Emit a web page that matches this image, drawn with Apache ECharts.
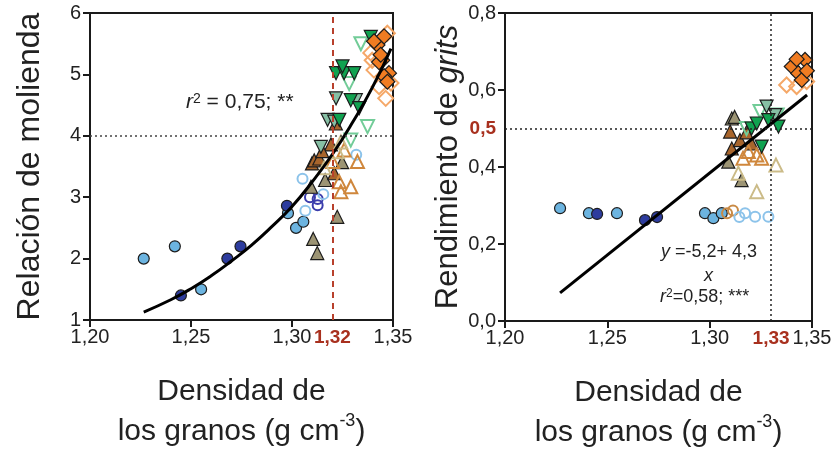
<!DOCTYPE html>
<html>
<head>
<meta charset="utf-8">
<script src="https://cdn.jsdelivr.net/npm/echarts@6/dist/echarts.min.js"></script>
<style>
  html, body { margin: 0; padding: 0; background: #fff; }
  #chart { width: 839px; height: 454px; }
</style>
</head>
<body>
<div id="chart"></div>
<script>
// x ticks shared by both panels
const xTicks = [1.20, 1.25, 1.30, 1.35];
const molTicks = [1, 2, 3, 4, 5, 6];
const grtTicks = [0, 0.2, 0.4, 0.6, 0.8];

// left panel: relacion de molienda
const molSky = [[1.2266,2.0],[1.242,2.2],[1.255,1.5],[1.298,2.74],[1.302,2.5],[1.3056,2.6]];
const molNavy = [[1.245,1.4],[1.268,2.0],[1.2745,2.2],[1.2975,2.86]];
const molOpenNavy = [[1.3089,3.0],[1.3127,2.97],[1.3127,2.87]];
const molOpenSky = [[1.3066,2.78],[1.3155,3.05],[1.3318,3.69],[1.3052,3.3]];
const molOlive = [[1.3105,2.32],[1.3125,2.09],[1.3224,2.68],[1.3094,3.17],[1.3164,3.28],[1.3248,3.57]];
const molBrown = [[1.3099,3.55],[1.311,3.6],[1.3135,3.63],[1.3209,3.39],[1.3193,3.86],[1.3217,4.2],[1.315,3.75]];
const molOpenOrangeTri = [[1.3324,3.58],[1.3234,3.25],[1.3291,3.17],[1.3242,3.09],[1.3201,3.58],[1.3258,3.77]];
const molOpenTanTri = [[1.3225,3.74],[1.316,3.48],[1.3242,3.9]];
const molGreen = [[1.339,5.61],[1.3218,5.02],[1.3258,5.02],[1.3308,5.02],[1.325,5.13],[1.3291,4.58],[1.3333,4.45],[1.3234,4.26]];
const molLightGreen = [[1.3218,4.61],[1.3316,4.58],[1.3176,4.26],[1.3143,3.82],[1.3209,4.23]];
const molOpenGreen = [[1.3341,5.5],[1.3283,4.85],[1.3374,4.15],[1.3291,3.93]];
const molDiamond = [[1.3423,5.48],[1.3447,5.23],[1.3431,5.2],[1.348,5.02],[1.3456,4.97],[1.3472,4.88],[1.3439,5.32],[1.3406,5.54],[1.3456,5.62]];
const molOpenDiamond = [[1.3472,5.67],[1.339,5.35],[1.3397,5.23],[1.3406,5.07],[1.3431,4.8],[1.3464,4.61],[1.349,4.86]];
const molCurve = [[1.2266,1.13],[1.24,1.33],[1.25,1.51],[1.26,1.72],[1.27,1.96],[1.28,2.22],[1.29,2.52],[1.30,2.85],[1.31,3.25],[1.32,3.7],[1.33,4.22],[1.34,4.8],[1.349,5.42]];

// right panel: rendimiento de grits
const grtSky = [[1.2269,0.293],[1.241,0.28],[1.2547,0.28],[1.2977,0.28],[1.3018,0.267],[1.3059,0.28]];
const grtNavy = [[1.245,0.278],[1.2684,0.262],[1.2743,0.27]];
const grtOpenBrownCircle = [[1.3085,0.28],[1.3114,0.287]];
const grtOpenSky = [[1.3173,0.28],[1.3222,0.271],[1.3287,0.271],[1.3145,0.27]];
const grtOlive = [[1.3108,0.526],[1.3091,0.414],[1.3156,0.366],[1.3122,0.53]];
const grtBrown = [[1.31,0.492],[1.3108,0.448],[1.3148,0.47],[1.3205,0.461],[1.318,0.49]];
const grtOpenOrangeTri = [[1.3189,0.44],[1.323,0.431],[1.3254,0.423],[1.3163,0.423]];
const grtOpenTanTri = [[1.314,0.384],[1.323,0.336],[1.3324,0.405]];
const grtGreen = [[1.3205,0.5],[1.323,0.513],[1.3287,0.522],[1.3336,0.505],[1.3254,0.453]];
const grtLightGreen = [[1.3278,0.557],[1.332,0.535]];
const grtOpenGreen = [[1.3246,0.544],[1.333,0.535],[1.318,0.5]];
const grtDiamond = [[1.3466,0.678],[1.3401,0.661],[1.3433,0.643],[1.345,0.626],[1.3425,0.68],[1.3475,0.65]];
const grtOpenDiamond = [[1.3376,0.613],[1.3425,0.609],[1.3474,0.622]];
const grtLine = [[1.2269,0.073],[1.3476,0.587]];

const FONT = 'Liberation Sans, Arial, sans-serif';
const comma = (d) => (v) => v.toFixed(d).replace('.', ',');

function pts(data, idx, symbol, size, fill, border, bw, rotate) {
  return {
    type: 'scatter',
    xAxisIndex: idx, yAxisIndex: idx,
    data: data,
    symbol: symbol,
    symbolSize: size,
    symbolRotate: rotate || 0,
    itemStyle: { color: fill, borderColor: border, borderWidth: bw, opacity: 1 },
    silent: true,
    z: 2
  };
}
const NONE = 'rgba(0,0,0,0)';
const EDGE = '#1c1c1c';

function markers(p, idx) {
  return [
    pts(p.sky, idx, 'circle', 11, '#6cb4e0', EDGE, 1.2),
    pts(p.navy, idx, 'circle', 11, '#2d3c9e', EDGE, 1.2),
    pts(p.openA, idx, 'circle', 10, NONE, p.openAColor, 2),
    pts(p.openSky, idx, 'circle', 10, NONE, '#8cc3ea', 2),
    pts(p.olive, idx, 'triangle', 13, '#9c9474', EDGE, 1.2),
    pts(p.brown, idx, 'triangle', 13, '#a8652c', EDGE, 1.2),
    pts(p.openOrangeTri, idx, 'triangle', 13, NONE, '#cf873c', 2),
    pts(p.openTanTri, idx, 'triangle', 13, NONE, '#cbbb88', 2),
    pts(p.openGreen, idx, 'triangle', 13, NONE, '#72cc98', 2, 180),
    pts(p.lightGreen, idx, 'triangle', 13, '#86bfa4', EDGE, 1.2, 180),
    pts(p.green, idx, 'triangle', 13, '#10a250', EDGE, 1.2, 180),
    pts(p.openDiamond, idx, 'diamond', 15, NONE, '#f5a868', 2),
    pts(p.diamond, idx, 'diamond', 15, '#f07c22', EDGE, 1.2)
  ];
}

const axisCommon = {
  axisLine: { show: true, onZero: false, lineStyle: { color: '#1a1a1a', width: 2 } },
  axisTick: { show: true, length: 7, lineStyle: { color: '#1a1a1a', width: 2 } },
  splitLine: { show: false },
  axisLabel: { fontFamily: FONT, fontSize: 20, color: '#222' }
};

function xAx(idx) {
  return Object.assign({}, axisCommon, {
    type: 'value', gridIndex: idx, min: xTicks[0], max: xTicks[xTicks.length - 1], interval: 0.05,
    axisLabel: Object.assign({}, axisCommon.axisLabel, { margin: 7, formatter: comma(2) }),
    name: 'Densidad de\nlos granos (g cm{sup|-3})',
    nameLocation: 'middle', nameGap: 52,
    nameTextStyle: {
      fontFamily: FONT, fontSize: 30, color: '#222', lineHeight: 40,
      rich: { sup: { fontFamily: FONT, fontSize: 18, color: '#222', verticalAlign: 'top', lineHeight: 40, padding: [0, 0, 16, 0] } }
    }
  });
}

const chart = echarts.init(document.getElementById('chart'));
const option = {
  backgroundColor: '#fff',
  animation: false,
  grid: [
    { left: 90, top: 13, width: 303, height: 307, show: true, borderColor: '#1a1a1a', borderWidth: 2,
      containLabel: false, outerBoundsMode: 'none' },
    { left: 505, top: 13, width: 307, height: 308, show: true, borderColor: '#1a1a1a', borderWidth: 2,
      containLabel: false, outerBoundsMode: 'none' }
  ],
  xAxis: [xAx(0), xAx(1)],
  yAxis: [
    Object.assign({}, axisCommon, {
      type: 'value', gridIndex: 0, min: molTicks[0], max: molTicks[molTicks.length - 1], interval: 1,
      axisLabel: Object.assign({}, axisCommon.axisLabel, { margin: 9 }),
      name: 'Relación de molienda', nameLocation: 'middle', nameGap: 44, nameRotate: 90,
      nameTextStyle: { fontFamily: FONT, fontSize: 32, color: '#222' }
    }),
    Object.assign({}, axisCommon, {
      type: 'value', gridIndex: 1, min: grtTicks[0], max: grtTicks[grtTicks.length - 1], interval: 0.2,
      axisLabel: Object.assign({}, axisCommon.axisLabel, { margin: 9, formatter: comma(1) }),
      name: 'Rendimiento de {i|grits}', nameLocation: 'middle', nameGap: 38, nameRotate: 90,
      nameTextStyle: {
        fontFamily: FONT, fontSize: 31, color: '#222',
        rich: { i: { fontFamily: FONT, fontSize: 31, color: '#222', fontStyle: 'italic' } }
      }
    })
  ],
  series: [].concat(
    markers({ sky: molSky, navy: molNavy, openA: molOpenNavy, openAColor: '#3b3dac', openSky: molOpenSky,
      olive: molOlive, brown: molBrown, openOrangeTri: molOpenOrangeTri, openTanTri: molOpenTanTri,
      green: molGreen, lightGreen: molLightGreen, openGreen: molOpenGreen,
      diamond: molDiamond, openDiamond: molOpenDiamond }, 0),
    markers({ sky: grtSky, navy: grtNavy, openA: grtOpenBrownCircle, openAColor: '#c98a45', openSky: grtOpenSky,
      olive: grtOlive, brown: grtBrown, openOrangeTri: grtOpenOrangeTri, openTanTri: grtOpenTanTri,
      green: grtGreen, lightGreen: grtLightGreen, openGreen: grtOpenGreen,
      diamond: grtDiamond, openDiamond: grtOpenDiamond }, 1),
    [
      {
        type: 'line', xAxisIndex: 0, yAxisIndex: 0, data: molCurve, smooth: true, showSymbol: false,
        lineStyle: { color: '#000', width: 3 }, silent: true, z: 4,
        markLine: {
          silent: true, symbol: 'none', animation: false,
          data: [
            { xAxis: 1.325, lineStyle: { color: '#b8402c', width: 2, type: [6, 5] },
              label: { show: true, position: 'start', distance: 8, formatter: '1,32',
                fontFamily: FONT, fontSize: 19, fontWeight: 'bold', color: '#a8301e' } },
            { yAxis: 4, lineStyle: { color: '#444', width: 1.5, type: [2, 3] }, label: { show: false } }
          ]
        }
      },
      {
        type: 'line', xAxisIndex: 1, yAxisIndex: 1, data: grtLine, showSymbol: false,
        lineStyle: { color: '#000', width: 3 }, silent: true, z: 4,
        markLine: {
          silent: true, symbol: 'none', animation: false,
          data: [
            { xAxis: 1.33, lineStyle: { color: '#222', width: 1.5, type: [2, 3] },
              label: { show: true, position: 'start', distance: 8, formatter: '1,33',
                fontFamily: FONT, fontSize: 19, fontWeight: 'bold', color: '#a8301e' } },
            { yAxis: 0.5, lineStyle: { color: '#222', width: 1.5, type: [2, 3] },
              label: { show: true, position: 'start', distance: 9, formatter: '0,5',
                fontFamily: FONT, fontSize: 19, fontWeight: 'bold', color: '#a8301e' } }
          ]
        }
      }
    ]
  ),
  graphic: [
    {
      type: 'text', left: 186, top: 92, silent: true,
      style: {
        text: '{i|r}{s|2}{n| = 0,75; **}',
        rich: {
          i: { fontFamily: FONT, fontSize: 21, fontStyle: 'italic', fill: '#222', verticalAlign: 'bottom' },
          s: { fontFamily: FONT, fontSize: 14, fill: '#222', verticalAlign: 'top' },
          n: { fontFamily: FONT, fontSize: 21, fill: '#222', verticalAlign: 'bottom' }
        }
      }
    },
    {
      type: 'text', left: 661, top: 243, silent: true,
      style: {
        text: '{i|y}{n| =-5,2+ 4,3}',
        rich: {
          i: { fontFamily: FONT, fontSize: 18, fontStyle: 'italic', fill: '#222' },
          n: { fontFamily: FONT, fontSize: 18, fill: '#222' }
        }
      }
    },
    {
      type: 'text', left: 704, top: 267, silent: true,
      style: { text: 'x', fontFamily: FONT, fontSize: 18, fontStyle: 'italic', fill: '#222' }
    },
    {
      type: 'text', left: 660, top: 288, silent: true,
      style: {
        text: '{i|r}{s|2}{n|=0,58; ***}',
        rich: {
          i: { fontFamily: FONT, fontSize: 18, fontStyle: 'italic', fill: '#222', verticalAlign: 'bottom' },
          s: { fontFamily: FONT, fontSize: 12, fill: '#222', verticalAlign: 'top' },
          n: { fontFamily: FONT, fontSize: 18, fill: '#222', verticalAlign: 'bottom' }
        }
      }
    }
  ]
};
chart.setOption(option);
</script>
</body>
</html>
